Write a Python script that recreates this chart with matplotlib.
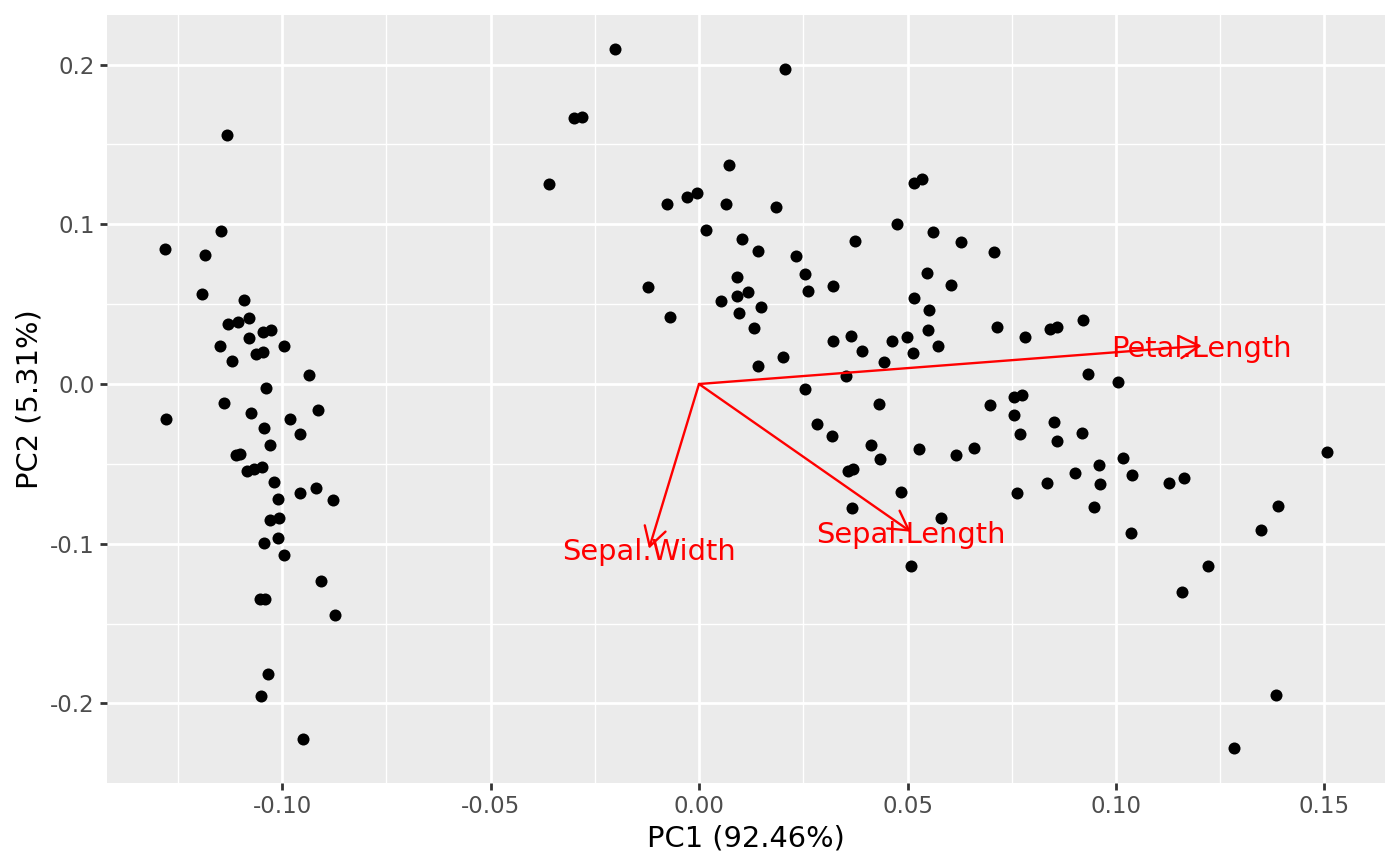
import matplotlib
matplotlib.use("Agg")
import matplotlib.pyplot as plt
from matplotlib.patches import FancyArrowPatch
import numpy as np

plt.rcParams['font.family'] = ['DejaVu Sans']

# PC scores
pc1_setosa = [-0.11319, -0.11463, -0.12806, -0.11839, -0.11911, -0.10904, -0.11288, -0.11062,
              -0.10784, -0.10448, -0.10271, -0.10784, -0.11480, -0.09959, -0.10631, -0.10463,
              -0.11206, -0.09360, -0.10384, -0.11384, -0.10736, -0.09808, -0.09144, -0.12775,
              -0.10439, -0.09561, -0.10288, -0.11103, -0.11007, -0.10847, -0.10664, -0.10487,
              -0.10185, -0.09568, -0.09177, -0.08784, -0.10103, -0.10288, -0.10072, -0.10103,
              -0.10432, -0.09959, -0.09065, -0.10528, -0.10408, -0.08736, -0.10329, -0.10504,
              -0.09489]
pc2_setosa = [0.15573, 0.09562, 0.08453, 0.08059, 0.05636, 0.05241, 0.03757, 0.03882,
              0.04114, 0.03256, 0.03363, 0.02899, 0.02379, 0.02398, 0.01860, 0.01985,
              0.01459, 0.00582, -0.00269, -0.01171, -0.01797, -0.02173, -0.01659, -0.02192,
              -0.02736, -0.03150, -0.03820, -0.04427, -0.04383, -0.05429, -0.05323, -0.05197,
              -0.06118, -0.06844, -0.06512, -0.07264, -0.07201, -0.08516, -0.08372, -0.09624,
              -0.09975, -0.10708, -0.12317, -0.13482, -0.13463, -0.14484, -0.18140, -0.19556,
              -0.22210]

pc1_other = [-0.02022, 0.02062, -0.02990, -0.02799, -0.03604, 0.00719, -0.00760, -0.00281,
             -0.00041, 0.00655, 0.01839, 0.00175, 0.01038, 0.01408, 0.02326, 0.02542,
             0.02614, 0.00904, -0.01223, 0.00918, 0.01182, 0.00528, 0.01480, 0.00959,
             -0.00695, 0.01312, 0.02022, 0.01415, 0.05156, 0.05348, 0.04748, 0.03748,
             0.05604, 0.06283, 0.07067, 0.03221, 0.05468, 0.06050, 0.05149, 0.05508,
             0.03221, 0.03652, 0.03902, 0.04635, 0.04981, 0.05499, 0.05125, 0.05724,
             0.04429, 0.03532, 0.07146, 0.07818, 0.08417, 0.08578, 0.02542, 0.07554,
             0.07739, 0.04309, 0.02830, 0.03197, 0.04132, 0.04333, 0.03573, 0.03700,
             0.04837, 0.03676, 0.05276, 0.05803, 0.06170, 0.06588, 0.06986, 0.07547,
             0.07705, 0.08506, 0.08585, 0.07619, 0.08353, 0.05091, 0.09201, 0.09321,
             0.10041, 0.09177, 0.10168, 0.09600, 0.09024, 0.10376, 0.09624, 0.11271,
             0.11631, 0.09472, 0.10367, 0.15060, 0.13885, 0.13477, 0.12206, 0.11576,
             0.13837, 0.12823]
pc2_other = [0.20958, 0.19743, 0.16638, 0.16738, 0.12523, 0.13713, 0.11271, 0.11691,
             0.11960, 0.11290, 0.11102, 0.09662, 0.09098, 0.08347, 0.08003, 0.06919,
             0.05823, 0.06681, 0.06093, 0.05529, 0.05761, 0.05197, 0.04840, 0.04427,
             0.04214, 0.03519, 0.01709, 0.01115, 0.12605, 0.12855, 0.10019, 0.08973,
             0.09518, 0.08911, 0.08266, 0.06137, 0.06951, 0.06180, 0.05404, 0.04653,
             0.02693, 0.03024, 0.02048, 0.02711, 0.02962, 0.03363, 0.01922, 0.02361,
             0.01378, 0.00532, 0.03569, 0.02962, 0.03463, 0.03588, -0.00313, -0.00795,
             -0.00689, -0.01252, -0.02486, -0.03237, -0.03801, -0.04715, -0.05448, -0.05304,
             -0.06782, -0.07746, -0.04070, -0.08372, -0.04446, -0.04026, -0.01315, -0.01960,
             -0.03112, -0.02361, -0.03588, -0.06807, -0.06180, -0.11378, 0.04026, 0.00645,
             0.00144, -0.03068, -0.04634, -0.05053, -0.05573, -0.05698, -0.06262, -0.06218,
             -0.05905, -0.07721, -0.09311, -0.04277, -0.07639, -0.09142, -0.11415, -0.13006,
             -0.19493, -0.22812]

# Loadings (arrow tips)
load_names = ["Sepal.Length", "Sepal.Width", "Petal.Length"]
load_pc1 = [0.05077, -0.01199, 0.12055]
load_pc2 = [-0.09249, -0.10313, 0.02398]

x_title = "PC1 (92.46%)"
y_title = "PC2 (5.31%)"
x_ticks = [-0.10, -0.05, 0.00, 0.05, 0.10, 0.15]
x_ticklabels = ["-0.10", "-0.05", "0.00", "0.05", "0.10", "0.15"]
y_ticks = [-0.2, -0.1, 0.0, 0.1, 0.2]
y_ticklabels = ["-0.2", "-0.1", "0.0", "0.1", "0.2"]

W, H = 1400, 866
fig = plt.figure(figsize=(W / 100, H / 100), dpi=100)
fig.patch.set_facecolor("white")
L, R, T, B = 107, 1385, 15, 782.7
ax = fig.add_axes([L / W, 1 - B / H, (R - L) / W, (B - T) / H])
ax.set_facecolor("#EBEBEB")
for s in ax.spines.values():
    s.set_visible(False)

ax.set_xlim(-0.14197, 0.16451)
ax.set_ylim(-0.2497, 0.2311)

ax.set_xticks(x_ticks)
ax.set_xticklabels(x_ticklabels)
ax.set_yticks(y_ticks)
ax.set_yticklabels(y_ticklabels)
ax.set_xticks([-0.125, -0.075, -0.025, 0.025, 0.075, 0.125], minor=True)
ax.set_yticks([-0.15, -0.05, 0.05, 0.15], minor=True)
ax.grid(which="major", color="white", linewidth=2.0)
ax.grid(which="minor", color="white", linewidth=1.0)
ax.set_axisbelow(True)
ax.tick_params(which="major", length=5.2, width=2.0, color="#333333",
               labelcolor="#4D4D4D", labelsize=16.5, pad=3.5)
ax.tick_params(which="minor", length=0)

pc1 = pc1_setosa + pc1_other
pc2 = pc2_setosa + pc2_other
ax.scatter(pc1, pc2, s=75, color="black", linewidths=0, zorder=3)

for name, lx, ly in zip(load_names, load_pc1, load_pc2):
    arr = FancyArrowPatch((0, 0), (lx, ly), arrowstyle="->,head_length=13.5,head_width=7.8",
                          mutation_scale=1, color="red", linewidth=1.7,
                          shrinkA=0, shrinkB=0, zorder=4)
    ax.add_patch(arr)
    ax.text(lx, ly, name, color="red", fontsize=20.8, ha="center",
            va="center_baseline", zorder=5)

ax.set_xlabel(x_title, fontsize=20.8, color="black", labelpad=5)
ax.set_ylabel(y_title, fontsize=20.8, color="black", labelpad=5)

fig.savefig("out.png", dpi=100)
